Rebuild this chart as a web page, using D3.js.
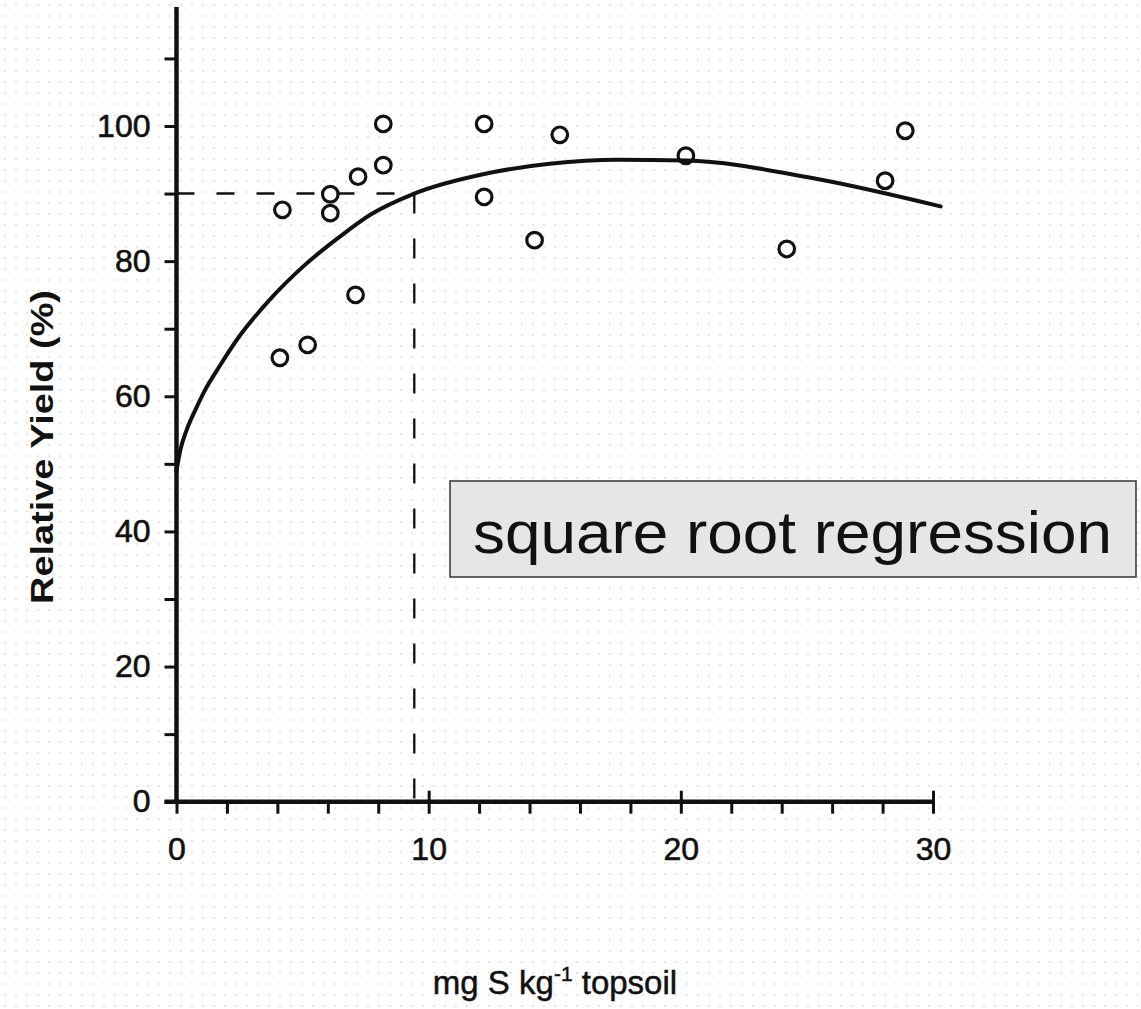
<!DOCTYPE html>
<html>
<head>
<meta charset="utf-8">
<script src="https://cdn.jsdelivr.net/npm/d3@7"></script>
<style>
  body { margin: 0; background: #fff; }
  text { font-family: "Liberation Sans", Arial, sans-serif; fill: #111; }
</style>
</head>
<body>
<svg id="chart" width="1141" height="1009"></svg>
<script>
// measured points (mg S / kg topsoil, relative yield %)
var soilS    = [4.2, 4.1, 5.2, 6.1, 6.1, 7.2, 7.1, 8.2, 8.2, 12.2, 12.2, 14.2, 15.2, 20.2, 24.2, 28.1, 28.9];
var relYield = [87.6, 65.7, 67.6, 89.9, 87.1, 92.5, 75.0, 94.2, 100.3, 89.5, 100.3, 83.1, 98.7, 95.6, 81.8, 91.9, 99.3];

// regression curve
var fitX = [0, 0.15, 0.4, 0.75, 1.1, 1.75, 2.4, 3.7, 5.05, 6.4, 7.7, 9.43, 12.2, 14.8, 17.5, 20.2, 25.2, 30.3];
var fitY = [49, 52.0, 55.0, 58.0, 60.7, 64.7, 68.4, 74.3, 79.3, 83.4, 86.9, 90.0, 92.9, 94.4, 95.0, 94.9, 92.3, 88.1];

// critical level (90 % relative yield)
var critX = 9.43;
var critY = 90;

var yMajor = [0, 20, 40, 60, 80, 100];
var xMajor = [0, 10, 20, 30];

var svg = d3.select("#chart");

// dotted paper background
var defs = svg.append("defs");
var pat = defs.append("pattern")
    .attr("id", "dots")
    .attr("width", 11).attr("height", 11)
    .attr("patternUnits", "userSpaceOnUse");
pat.append("rect").attr("width", 11).attr("height", 11).attr("fill", "#fff");
pat.append("circle").attr("cx", 5).attr("cy", 5).attr("r", 0.9).attr("fill", "#dcdcdc");
svg.append("rect").attr("width", 1141).attr("height", 1009).attr("fill", "url(#dots)");

var x = d3.scaleLinear().domain([0, 30]).range([176.5, 933]);
var y = d3.scaleLinear().domain([0, 100]).range([801.7, 126]);

// dashed guide lines
svg.append("line")
    .attr("x1", x(0)).attr("x2", x(critX))
    .attr("y1", y(critY)).attr("y2", y(critY))
    .attr("stroke", "#111").attr("stroke-width", 2.6)
    .attr("stroke-dasharray", "18,22");
svg.append("line")
    .attr("x1", x(critX)).attr("x2", x(critX))
    .attr("y1", y(critY)).attr("y2", y(0))
    .attr("stroke", "#111").attr("stroke-width", 2.3)
    .attr("stroke-dasharray", "20,25");

// Y axis
var yAxis = svg.append("g")
    .attr("transform", "translate(" + x(0) + ",0)")
    .call(d3.axisLeft(y)
        .tickValues(d3.range(0, 111, 10))
        .tickSize(12)
        .tickPadding(14)
        .tickFormat(function(d) { return yMajor.indexOf(d) >= 0 ? d : ""; }));
yAxis.select(".domain").remove();
yAxis.append("line")
    .attr("y1", y(0) + 2).attr("y2", y(117.6))
    .attr("stroke", "#111").attr("stroke-width", 4.5);
yAxis.selectAll(".tick line").attr("stroke", "#111").attr("stroke-width", 3);
yAxis.selectAll(".tick text")
    .attr("font-size", "32px")
    .attr("fill", "#111")
    .attr("stroke", "#111").attr("stroke-width", 0.6)
    .attr("font-family", "Liberation Sans, Arial, sans-serif");

// X axis
var xAxis = svg.append("g")
    .attr("transform", "translate(0," + y(0) + ")")
    .call(d3.axisBottom(x)
        .tickValues(d3.range(0, 31, 2))
        .tickSize(12)
        .tickPadding(24)
        .tickFormat(function(d) { return xMajor.indexOf(d) >= 0 ? d : ""; }));
xAxis.select(".domain").remove();
xAxis.append("line")
    .attr("x1", x(0) - 12).attr("x2", x(30) + 2)
    .attr("stroke", "#111").attr("stroke-width", 4.5);
xAxis.selectAll(".tick line")
    .attr("stroke", "#111").attr("stroke-width", 3)
    .attr("y1", function(d) { return d > 0 && d % 10 == 0 ? -11 : 0; });
xAxis.selectAll(".tick text")
    .attr("font-size", "32px")
    .attr("fill", "#111")
    .attr("stroke", "#111").attr("stroke-width", 0.6)
    .attr("font-family", "Liberation Sans, Arial, sans-serif");

// regression curve
var fit = fitX.map(function(v, i) { return [v, fitY[i]]; });
svg.append("path")
    .datum(fit)
    .attr("fill", "none")
    .attr("stroke", "#111")
    .attr("stroke-width", 4)
    .attr("stroke-linecap", "round")
    .attr("d", d3.line()
        .x(function(d) { return x(d[0]); })
        .y(function(d) { return y(d[1]); })
        .curve(d3.curveMonotoneX));

// data points
svg.selectAll(".pt")
    .data(soilS)
    .enter()
    .append("circle")
    .attr("class", "pt")
    .attr("cx", function(d) { return x(d); })
    .attr("cy", function(d, i) { return y(relYield[i]); })
    .attr("r", 7.8)
    .attr("fill", "none")
    .attr("stroke", "#111")
    .attr("stroke-width", 3.2);

// axis titles
svg.append("text")
    .attr("transform", "translate(53,447) rotate(-90)")
    .attr("text-anchor", "middle")
    .attr("font-size", "32px")
    .attr("font-weight", "bold")
    .attr("textLength", 314)
    .attr("lengthAdjust", "spacingAndGlyphs")
    .text("Relative Yield (%)");

var xl = svg.append("text")
    .attr("x", 555)
    .attr("y", 994)
    .attr("text-anchor", "middle")
    .attr("font-size", "33px")
    .attr("stroke", "#111").attr("stroke-width", 0.5);
xl.append("tspan").text("mg S kg");
xl.append("tspan").attr("dy", -13).attr("font-size", "21px").text("-1");
xl.append("tspan").attr("dy", 13).text(" topsoil");

// annotation box
svg.append("rect")
    .attr("x", 450).attr("y", 481)
    .attr("width", 686).attr("height", 96)
    .attr("fill", "#e6e6e6")
    .attr("stroke", "#333")
    .attr("stroke-width", 1.5);
svg.append("text")
    .attr("x", 473)
    .attr("y", 553)
    .attr("font-size", "60px")
    .attr("textLength", 639)
    .attr("lengthAdjust", "spacingAndGlyphs")
    .attr("fill", "#000")
    .text("square root regression");
</script>
</body>
</html>
